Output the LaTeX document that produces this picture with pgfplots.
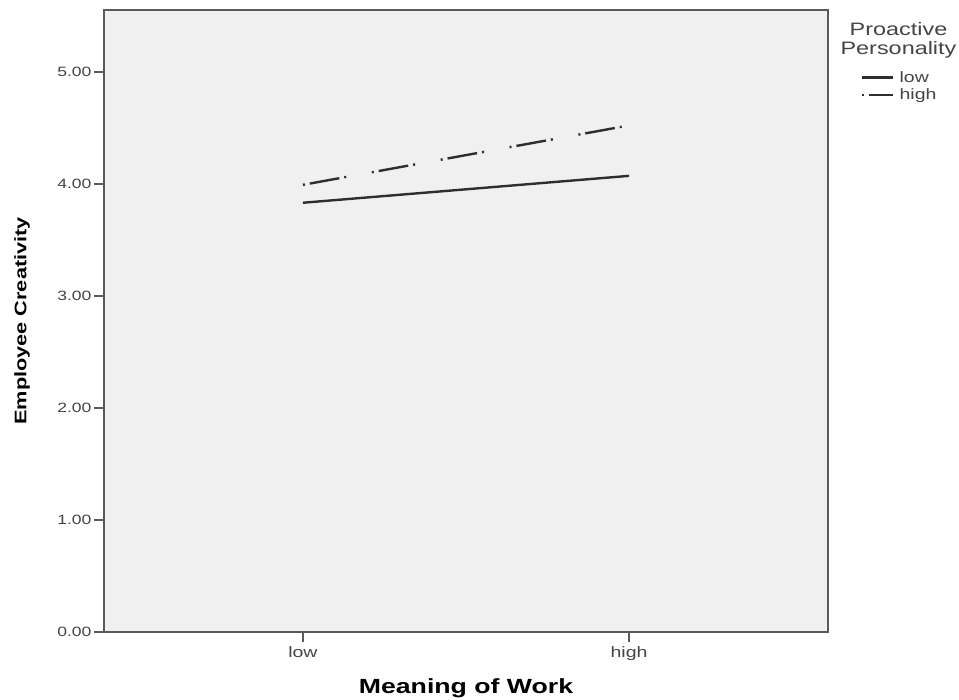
\documentclass[border=0pt]{standalone}
\usepackage{pgfplots}
\pgfplotsset{compat=1.18}
\usepackage{fontspec}
\setmainfont{Liberation Sans}[FakeStretch=1.3]
\definecolor{bg}{HTML}{F0F0F0}
\definecolor{axc}{HTML}{5A5A5A}
\definecolor{lnc}{HTML}{2E2E2E}
\definecolor{tkc}{HTML}{444444}
\begin{document}
\begin{tikzpicture}[x=1pt,y=1pt]
\useasboundingbox (-104,-68) rectangle (855,632);
\begin{axis}[
  at={(0,0)}, anchor=south west,
  scale only axis, width=724pt, height=622pt,
  xmin=-0.61, xmax=1.61, ymin=0, ymax=5.55,
  axis background/.style={fill=bg},
  axis line style={color=axc, line width=1.8pt},
  xtick={0,1}, xticklabels={low,high},
  ytick={0,1,2,3,4,5},
  yticklabels={0.00,1.00,2.00,3.00,4.00,5.00},
  tick align=outside, tick pos=left,
  major tick length=10pt,
  tick style={color=axc, line width=1.8pt},
  yticklabel style={font=\fontsize{13.5}{15}\selectfont, text=tkc, xshift=1pt},
  xticklabel style={font=\fontsize{15}{17}\selectfont, text=tkc, yshift=-1pt},
  xlabel={\textbf{Meaning of Work}},
  ylabel={\textbf{Employee Creativity}},
  xlabel style={font=\fontsize{20.5}{24}\selectfont, at={(axis description cs:0.5,-0.09)}, anchor=center},
  ylabel style={font=\fontsize{16.7}{19}\selectfont, at={(axis description cs:-0.113,0.5)}, anchor=center},
  legend style={at={(1.0,0.908)}, anchor=north west, draw=none, fill=none,
    font=\fontsize{15}{17}\selectfont, text=tkc, row sep=1pt, xshift=30pt},
  legend cell align=left,
  legend image code/.code={\draw[#1] (0pt,0pt) -- (31pt,0pt); \path (34pt,0pt);},
]
\addplot[color=lnc, line width=2.4pt] coordinates {(0,3.83) (1,4.07)};
\addlegendentry{low}
\addplot[color=lnc, line width=2.4pt, dash pattern=on 2pt off 5pt on 30pt off 5pt on 2pt off 26pt] coordinates {(0,3.99) (1,4.52)};
\addlegendentry{high}
\end{axis}
\node[font=\fontsize{18}{19}\selectfont, text=tkc, align=center] at (794.5,591.5) {Proactive\\Personality};
\end{tikzpicture}
\end{document}
